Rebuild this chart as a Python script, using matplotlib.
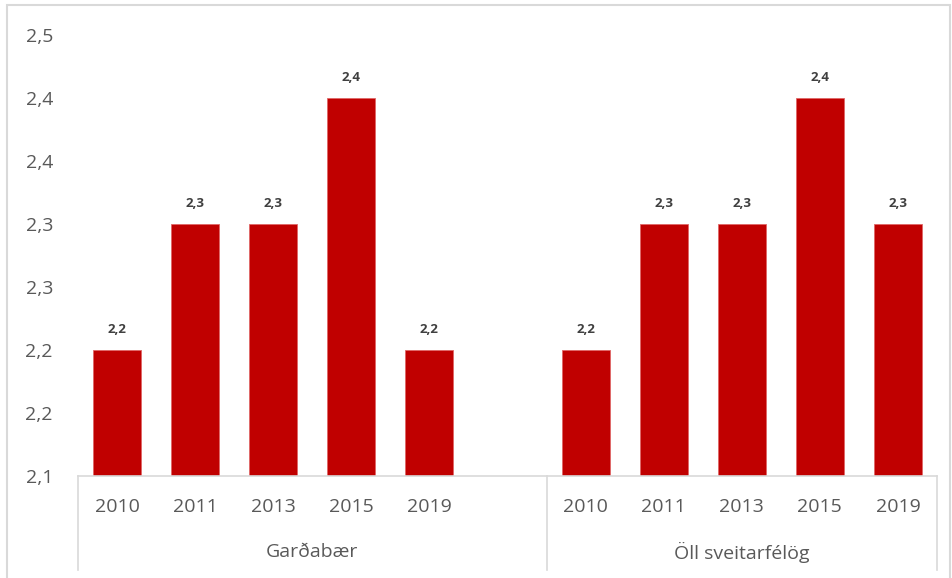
import numpy as np
import matplotlib.pyplot as plt
from matplotlib.patches import Rectangle
from matplotlib.ticker import FuncFormatter

plt.rcParams['font.family'] = ['Open Sans', 'DejaVu Sans']

years = ['2010', '2011', '2013', '2015', '2019']
groups = ['Garðabær', 'Öll sveitarfélög']
gardabaer = [2.2, 2.3, 2.3, 2.4, 2.2]
oll = [2.2, 2.3, 2.3, 2.4, 2.3]

RED = '#C00000'
TXT = '#595959'
GRID = '#D9D9D9'


def comma(v, p=None):
    # round half up like Excel does
    return f'{np.floor(v * 10 + 0.5 + 1e-9) / 10:.1f}'.replace('.', ',')


fig = plt.figure(figsize=(9.53, 5.78), dpi=100)
ax = fig.add_axes([78 / 953, 1 - 476 / 578, (937 - 78) / 953, (476 - 35) / 578])

# blank slot between the two groups, like the Excel source
pos_g = np.arange(5)
pos_o = np.arange(6, 11)
xs = np.concatenate([pos_g, pos_o])
vals = gardabaer + oll

bars = ax.bar(xs, vals, width=0.615, color=RED, edgecolor='#E06666', linewidth=0.6)
for x, v in zip(xs, vals):
    ax.annotate(comma(v), (x, v), xytext=(0, 10),
                textcoords='offset points', ha='center', va='bottom',
                fontsize=9.5, fontweight='bold', color='#404040')

ax.set_xlim(-0.5, 10.5)
ax.set_ylim(2.1, 2.45)
ax.set_yticks(np.arange(2.1, 2.4501, 0.05))
ax.yaxis.set_major_formatter(FuncFormatter(comma))
ax.set_xticks(xs)
ax.set_xticklabels(years + years)
ax.tick_params(axis='both', length=0, labelsize=14, labelcolor=TXT)
ax.tick_params(axis='x', pad=16)
ax.tick_params(axis='y', pad=18)

for s in ['top', 'right', 'left']:
    ax.spines[s].set_visible(False)
ax.spines['bottom'].set_color(GRID)
ax.spines['bottom'].set_linewidth(1.2)

# group dividers and labels under the year labels
trans = ax.get_xaxis_transform()
low = -(570 - 476) / 441
for x in [-0.5, 5.5, 10.5]:
    ax.plot([x, x], [0, low], transform=trans, color=GRID, lw=1.2, clip_on=False)
ax.text(2.5, -(552 - 476) / 441, groups[0], transform=trans, ha='center', va='center',
        fontsize=14, color=TXT)
ax.text(8, -(552 - 476) / 441, groups[1], transform=trans, ha='center', va='center',
        fontsize=14, color=TXT)

# outer chart frame
fig.patches.append(Rectangle((7 / 953, -0.05), (950 - 7) / 953, 1.05 - 5 / 578,
                             transform=fig.transFigure, fill=False,
                             edgecolor=GRID, lw=1.5))

fig.savefig('out.png', dpi=100)
